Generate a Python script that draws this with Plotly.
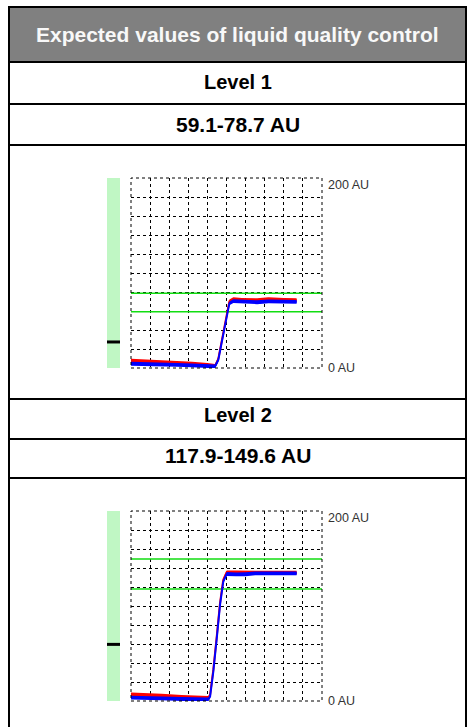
import plotly.graph_objects as go

# ---------------- data ----------------
title_text = "Expected values of liquid quality control"
level_labels = ["Level 1", "Level 2"]
range_labels = ["59.1-78.7 AU", "117.9-149.6 AU"]
expected_low = [59.1, 117.9]
expected_high = [78.7, 149.6]
y_limits = [0, 200]
x_limits = [0, 100]
y_tick_labels = ["0 AU", "200 AU"]
marker_values = [27.4, 59.6]

blue1_t = [0, 8, 16, 24, 32, 40, 44, 45.7, 47, 48.3, 50.1, 51.5, 53.6, 58, 66, 72, 80, 86.7]
blue1_v = [4.5, 4.3, 3.8, 3.3, 2.7, 2.0, 1.7, 8.4, 22, 36.5, 57.5, 68.1, 70.5, 69.8, 69.2, 70.2, 69.6, 69.6]
red1_t = [0, 8, 16, 24, 32, 40, 44, 45.7, 47, 48.3, 50.1, 51.5, 53.6, 58, 66, 72, 80, 86.7]
red1_v = [7.7, 7.0, 6.3, 5.6, 4.5, 3.2, 2.3, 9.5, 23.5, 38, 59, 70, 72.5, 71.8, 71.4, 72.5, 71.8, 71.5]

blue2_t = [0, 7.3, 16, 26.5, 34, 40.5, 41.4, 43.1, 44.9, 46.6, 48.3, 50.1, 55, 60, 65, 75, 86.7]
blue2_v = [3.5, 3.5, 2.8, 2.1, 1.9, 1.8, 4.6, 30.9, 66, 101, 125.6, 133.7, 133.2, 133.4, 134.4, 134.4, 134.4]
red2_t = [0, 7.3, 16, 26.5, 34, 40.5, 41.4, 43.1, 44.9, 46.6, 48.3, 50.1, 55, 60, 65, 75, 86.7]
red2_v = [7.0, 6.5, 5.6, 4.2, 3.8, 3.2, 6.5, 33, 68, 103, 127.5, 135.5, 135.5, 135.6, 135.2, 135.0, 135.0]

series = [
    [(red1_t, red1_v), (blue1_t, blue1_v)],
    [(red2_t, red2_v), (blue2_t, blue2_v)],
]

# ---------------- layout helpers ----------------
W, H = 473, 727


def px(x):
    return x / W


def py(y):
    return 1 - y / H


FONT = "Liberation Sans, Arial, Helvetica, sans-serif"
SMALL_FONT = "Liberation Sans Narrow, Arial Narrow, Liberation Sans, Arial, sans-serif"
GREEN_BAR = "#c0f7c4"
GREEN_LINE = "#11dd11"
COLORS = ["#ff0000", "#0000ff"]

table_left, table_right = 9, 466
h_lines = [7, 62, 104, 145, 399, 439, 478]
header_center = 34.5
level_centers = [82, 415]
range_centers = [124, 455]
chart_tops = [178, 511]
chart_bottoms = [368, 701]
plot_x = [131, 322]
bar_x = [107, 120]
half_band = 2.0

fig = go.Figure()
shapes = []
annotations = []
layout_axes = {}

# table background + borders
shapes.append(dict(type="rect", xref="paper", yref="paper",
                   x0=px(table_left), x1=px(table_right), y0=py(h_lines[1]), y1=py(h_lines[0]),
                   fillcolor="#808080", line=dict(width=0), layer="below"))
for yy in h_lines:
    shapes.append(dict(type="line", xref="paper", yref="paper",
                       x0=px(table_left - 1), x1=px(table_right + 1), y0=py(yy), y1=py(yy),
                       line=dict(color="black", width=2)))
for xx in (table_left, table_right):
    shapes.append(dict(type="line", xref="paper", yref="paper",
                       x0=px(xx), x1=px(xx), y0=py(h_lines[0] - 1), y1=py(H + 2),
                       line=dict(color="black", width=2)))

annotations.append(dict(text=title_text, xref="paper", yref="paper",
                        x=px((table_left + table_right) / 2), y=py(header_center),
                        xanchor="center", yanchor="middle", showarrow=False,
                        font=dict(family=FONT, size=21, color="#f8f8f8", weight="bold")))
for i in range(2):
    annotations.append(dict(text=level_labels[i], xref="paper", yref="paper",
                            x=px((table_left + table_right) / 2), y=py(level_centers[i]),
                            xanchor="center", yanchor="middle", showarrow=False,
                            font=dict(family=FONT, size=20, color="black", weight="bold")))
    annotations.append(dict(text=range_labels[i], xref="paper", yref="paper",
                            x=px((table_left + table_right) / 2), y=py(range_centers[i]),
                            xanchor="center", yanchor="middle", showarrow=False,
                            font=dict(family=FONT, size=21, color="black", weight="bold")))

for i in range(2):
    xm = "x" if i == 0 else "x3"
    ym = "y" if i == 0 else "y3"
    xb = "x2" if i == 0 else "x4"
    yb = "y2" if i == 0 else "y4"
    xm_key = "xaxis" if i == 0 else "xaxis3"
    ym_key = "yaxis" if i == 0 else "yaxis3"
    xb_key = "xaxis2" if i == 0 else "xaxis4"
    yb_key = "yaxis2" if i == 0 else "yaxis4"
    ydom = [py(chart_bottoms[i]), py(chart_tops[i])]

    grid_style = dict(showgrid=True, gridcolor="black", griddash="3px,3px", gridwidth=1,
                      showticklabels=False, ticks="", zeroline=False, showline=False,
                      fixedrange=True)
    layout_axes[xm_key] = dict(domain=[px(plot_x[0]), px(plot_x[1])], range=x_limits,
                               anchor=ym, tick0=0, dtick=10, **grid_style)
    layout_axes[ym_key] = dict(domain=ydom, range=y_limits, anchor=xm, tick0=0, dtick=20,
                               **grid_style)
    layout_axes[xb_key] = dict(domain=[px(bar_x[0]), px(bar_x[1])], range=[0, 1],
                               anchor=yb, visible=False, fixedrange=True)
    layout_axes[yb_key] = dict(domain=ydom, range=y_limits, anchor=xb, visible=False,
                               fixedrange=True)

    # dashed frame
    shapes.append(dict(type="rect", xref=xm + " domain", yref=ym + " domain",
                       x0=0, x1=1, y0=0, y1=1,
                       line=dict(color="black", width=1, dash="3px,3px")))

    # green scale bar + black marker
    fig.add_trace(go.Bar(x=[0.5], y=[y_limits[1] - y_limits[0]], base=y_limits[0], width=1,
                         marker=dict(color=GREEN_BAR, line=dict(width=0)),
                         xaxis=xb, yaxis=yb, showlegend=False, hoverinfo="skip"))
    fig.add_trace(go.Scatter(x=[0.5], y=[marker_values[i]], mode="markers",
                             marker=dict(symbol="line-ew", size=12,
                                         line=dict(width=3, color="black")),
                             xaxis=xb, yaxis=yb, showlegend=False, hoverinfo="skip",
                             cliponaxis=True))

    # expected range lines
    for lim in (expected_low[i], expected_high[i]):
        fig.add_trace(go.Scatter(x=x_limits, y=[lim, lim], mode="lines",
                                 line=dict(color=GREEN_LINE, width=1.5),
                                 xaxis=xm, yaxis=ym, showlegend=False, hoverinfo="skip"))

    # measured curves (red under blue)
    for (t, v), col in zip(series[i], COLORS):
        fig.add_trace(go.Scatter(x=t, y=[a - half_band for a in v], mode="lines",
                                 line=dict(width=0, color=col), xaxis=xm, yaxis=ym,
                                 showlegend=False, hoverinfo="skip"))
        fig.add_trace(go.Scatter(x=t, y=[a + half_band for a in v], mode="lines",
                                 fill="tonexty", fillcolor=col,
                                 line=dict(width=0, color=col), xaxis=xm, yaxis=ym,
                                 showlegend=False, hoverinfo="skip"))
        fig.add_trace(go.Scatter(x=t, y=v, mode="lines", line=dict(width=2, color=col),
                                 xaxis=xm, yaxis=ym, showlegend=False, hoverinfo="skip"))

    # axis labels
    annotations.append(dict(text=y_tick_labels[1], xref=xm + " domain", yref=ym,
                            x=1, y=y_limits[1], xanchor="left", yanchor="top",
                            xshift=4, yshift=2, showarrow=False,
                            font=dict(family=SMALL_FONT, size=12.5, color="#333333")))
    annotations.append(dict(text=y_tick_labels[0], xref=xm + " domain", yref=ym,
                            x=1, y=y_limits[0], xanchor="left", yanchor="middle",
                            xshift=4, showarrow=False,
                            font=dict(family=SMALL_FONT, size=12.5, color="#333333")))

fig.update_layout(
    width=W, height=H, margin=dict(l=0, r=0, t=0, b=0),
    paper_bgcolor="white", plot_bgcolor="rgba(0,0,0,0)",
    showlegend=False, shapes=shapes, annotations=annotations,
    **layout_axes,
)

fig.write_html("out.html", config={"displayModeBar": False, "staticPlot": True},
               post_script="document.body.style.margin='0';document.body.style.overflow='hidden';")
